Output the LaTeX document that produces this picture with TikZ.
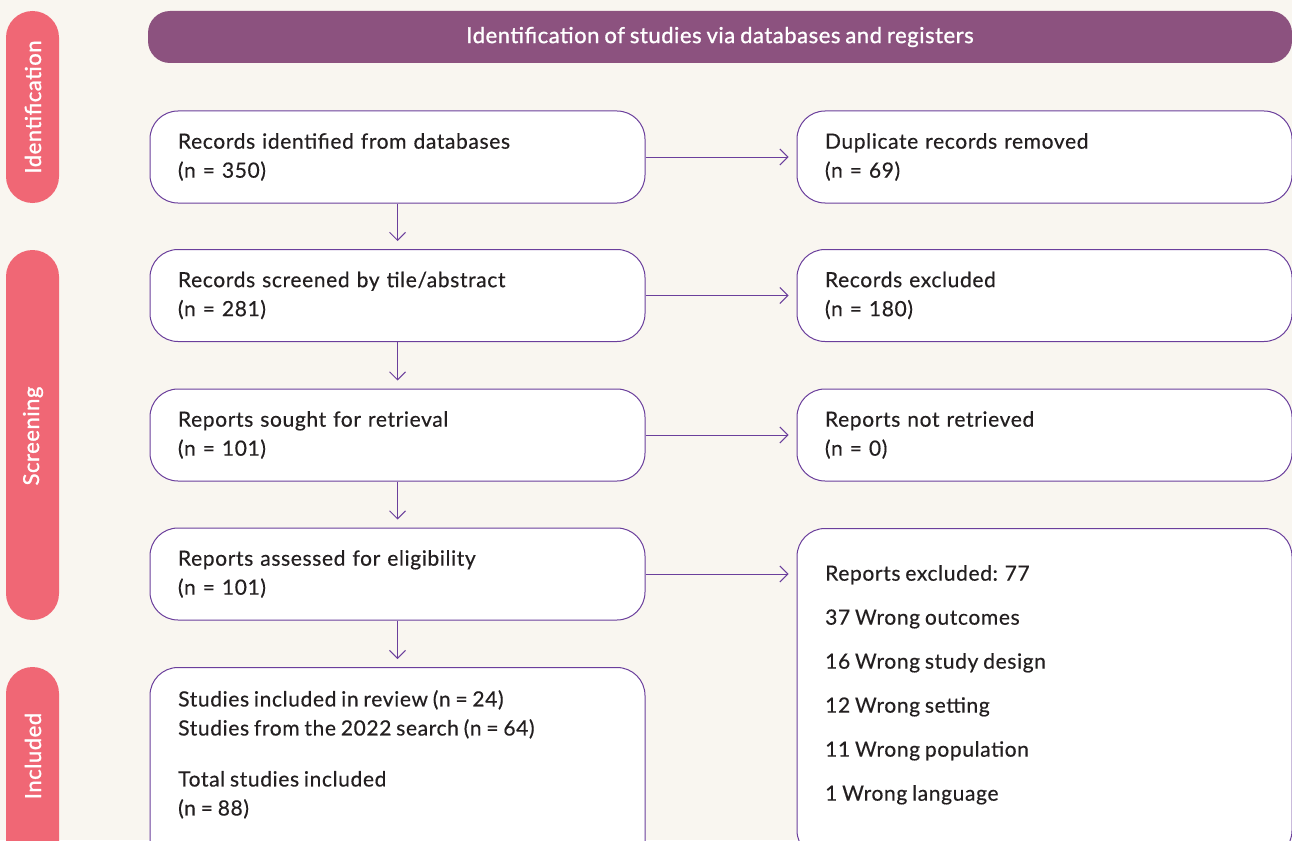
\documentclass[tikz,border=0pt]{standalone}
\usepackage{fontspec}
\setmainfont{Lato}[LetterSpace=3,WordSpace=0.8,FakeBold=0.4]
\newfontfamily\semib{Lato}[LetterSpace=2.5,WordSpace=0.8,FakeBold=1.2]
\usetikzlibrary{arrows.meta,calc}
\definecolor{bgc}{HTML}{F9F6F0}
\definecolor{pinkc}{HTML}{F06775}
\definecolor{bannerc}{HTML}{8C527F}
\definecolor{linec}{HTML}{6B3F9C}
\definecolor{txtc}{HTML}{231F20}
\tikzset{
  box/.style={draw=linec, line width=1pt, fill=white, rounded corners=28pt, minimum width=495pt, minimum height=92pt, inner sep=0pt},
  boxtxt/.style={text=txtc, font=\fontsize{21}{29}\selectfont, align=left, text width=439pt, inner sep=0pt},
  freetxt/.style={text=txtc, font=\fontsize{21}{29}\selectfont, align=left, inner sep=0pt},
  sidetxt/.style={text=white, font=\semib\fontsize{22}{24}\selectfont, rotate=90, inner sep=0pt},
  conn/.style={draw=linec, line width=1pt, -{Straight Barb[length=8pt,width=16pt,line width=1pt]}, shorten >=8pt}
}
\begin{document}
\begin{tikzpicture}[x=1pt,y=-1pt]
\useasboundingbox (0,0) rectangle (1292,840);
\clip (0,0) rectangle (1292,840);
\fill[bgc] (0,0) rectangle (1292,840);
% side pills
\fill[pinkc, rounded corners=26.5pt] (6,11) rectangle (59,203);
\fill[pinkc, rounded corners=26.5pt] (6,250) rectangle (59,620);
\fill[pinkc, rounded corners=26.5pt] (6,667) rectangle (59,920);
\node[sidetxt] (sid) at (33,107) {Identification};
\node[sidetxt] (scr) at (33,436) {Screening};
\node[sidetxt] (inc) at (33,756) {Included};
% banner
\node[fill=bannerc, rounded corners=22pt, minimum width=1144pt, minimum height=52pt, inner sep=0pt,
  text=white, font=\semib\fontsize{22}{24}\selectfont] (ban) at (720,37) {Identification of studies via databases and registers};
% left boxes
\node[box] (b1) at (397.5,157) {\tikz[baseline]\node[boxtxt]{Records identified from databases\\(n = 350)};};
\node[box] (b2) at (397.5,295.5) {\tikz[baseline]\node[boxtxt]{Records screened by tile/abstract\\(n = 281)};};
\node[box] (b3) at (397.5,435) {\tikz[baseline]\node[boxtxt]{Reports sought for retrieval\\(n = 101)};};
\node[box] (b4) at (397.5,574) {\tikz[baseline]\node[boxtxt]{Reports assessed for eligibility\\(n = 101)};};
\node[box, anchor=north, minimum height=250pt] (b5) at (397.5,667) {};
\node[freetxt, anchor=north west] (t5) at (178,690) {Studies included in review (n = 24)\\Studies from the 2022 search (n = 64)\\[22pt]Total studies included\\(n = 88)};
% right boxes
\node[box] (r1) at (1044.5,157) {\tikz[baseline]\node[boxtxt]{Duplicate records removed\\(n = 69)};};
\node[box] (r2) at (1044.5,295.5) {\tikz[baseline]\node[boxtxt]{Records excluded\\(n = 180)};};
\node[box] (r3) at (1044.5,435) {\tikz[baseline]\node[boxtxt]{Reports not retrieved\\(n = 0)};};
\node[box, anchor=north, minimum height=330pt] (r4) at (1044.5,528) {};
\node[freetxt, anchor=north west] (t4) at (825,565) {Reports excluded: 77\\[15pt]37 Wrong outcomes\\[15pt]16 Wrong study design\\[15pt]12 Wrong setting\\[15pt]11 Wrong population\\[15pt]1 Wrong language};
% connectors
\draw[conn] (b1) -- (r1);
\draw[conn] (b2) -- (r2);
\draw[conn] (b3) -- (r3);
\draw[conn] (b4.east) -- (b4.east -| r4.west);
\draw[conn] (b1) -- (b2);
\draw[conn] (b2) -- (b3);
\draw[conn] (b3) -- (b4);
\draw[conn] (b4) -- (b5);
\end{tikzpicture}
\end{document}
